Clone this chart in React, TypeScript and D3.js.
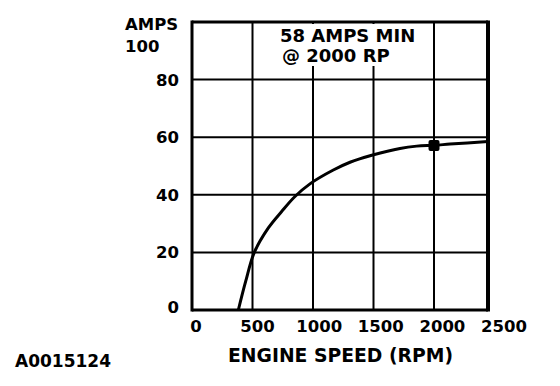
import React from 'react'
import * as d3 from 'd3'

// engine speed (rpm) vs alternator output (amps)
const rpm = [383, 444, 515, 631, 741, 851, 975, 1168, 1306, 1493, 1719, 1857, 2000, 2148, 2500]
const amps = [0, 10, 20, 28.5, 34.2, 39.4, 43.8, 48.6, 51.3, 53.8, 56.1, 56.9, 57.2, 57.6, 58.5]

const xTicks = [0, 500, 1000, 1500, 2000, 2500]
const yTicks = [0, 20, 40, 60, 80, 100]
const marker = { rpm: 2000, amps: 57.1 }

const W = 560
const H = 386
const FONT = '"DejaVu Sans", Arial, sans-serif'

export default function App() {
  // the printed grid is slightly compressed in its last column
  const x = d3.scaleLinear().domain([0, 2000, 2500]).range([192, 434, 488])
  const xLabel = d3.scaleLinear().domain([0, 2500]).range([196, 504])
  const y = d3.scaleLinear().domain([0, 100]).range([310, 22])

  const pts = rpm.map((r, i) => [r, amps[i]] as [number, number])
  const line = d3.line<[number, number]>()
    .x(d => x(d[0]))
    .y(d => y(d[1]))
    .curve(d3.curveCatmullRom.alpha(0.5))

  const [x0, x1] = [x(0), x(2500)]
  const [yb, yt] = [y(0), y(100)]

  return (
    <svg width={W} height={H} viewBox={`0 0 ${W} ${H}`}
      style={{ position: 'absolute', left: 0, top: 0, background: '#fff' }}
      fontFamily={FONT} fontWeight="bold">
      <rect width={W} height={H} fill="#fff" />

      {/* grid */}
      {xTicks.slice(1, -1).map(v => (
        <line key={'gx' + v} x1={x(v)} x2={x(v)} y1={yt} y2={yb} stroke="#000" strokeWidth={2} />
      ))}
      {yTicks.slice(1, -1).map(v => (
        <line key={'gy' + v} x1={x0} x2={x1} y1={y(v)} y2={y(v)} stroke="#000" strokeWidth={2} />
      ))}

      {/* annotation box hides the grid behind the text */}
      <rect x={275} y={yt + 2} width={150} height={42} fill="#fff" />
      <text x={280} y={42} fontSize={18}>58 AMPS MIN</text>
      <text x={282} y={62} fontSize={18}>@ 2000 RP</text>

      {/* frame */}
      <line x1={x0} x2={x0} y1={yt - 1.5} y2={yb + 1.5} stroke="#000" strokeWidth={3} />
      <line x1={x0} x2={x1} y1={yt} y2={yt} stroke="#000" strokeWidth={3} />
      <line x1={x0} x2={x1} y1={yb} y2={yb} stroke="#000" strokeWidth={3} />
      <line x1={x1} x2={x1} y1={yt - 1.5} y2={yb + 1.5} stroke="#000" strokeWidth={4} />

      {/* curve */}
      <path d={line(pts) ?? ''} fill="none" stroke="#000" strokeWidth={3} />
      <rect x={x(marker.rpm) - 5.5} y={y(marker.amps) - 5.5} width={11} height={11} rx={2} fill="#000" />

      {/* y axis labels */}
      {yTicks.slice(0, -1).map(v => (
        <text key={'ly' + v} x={179} y={y(v) + (v === 0 ? 3 : 6)} fontSize={16.5} textAnchor="end">{v}</text>
      ))}
      <text x={125} y={30} fontSize={16.5}>AMPS</text>
      <text x={125} y={52} fontSize={16.5}>{yTicks[yTicks.length - 1]}</text>

      {/* x axis labels */}
      {xTicks.map(v => (
        <text key={'lx' + v} x={xLabel(v)} y={332} fontSize={16.5} textAnchor="middle">{v}</text>
      ))}
      <text x={228} y={362} fontSize={19} textLength={225} lengthAdjust="spacingAndGlyphs">ENGINE SPEED (RPM)</text>

      <text x={15} y={367} fontSize={17}>A0015124</text>
    </svg>
  )
}
